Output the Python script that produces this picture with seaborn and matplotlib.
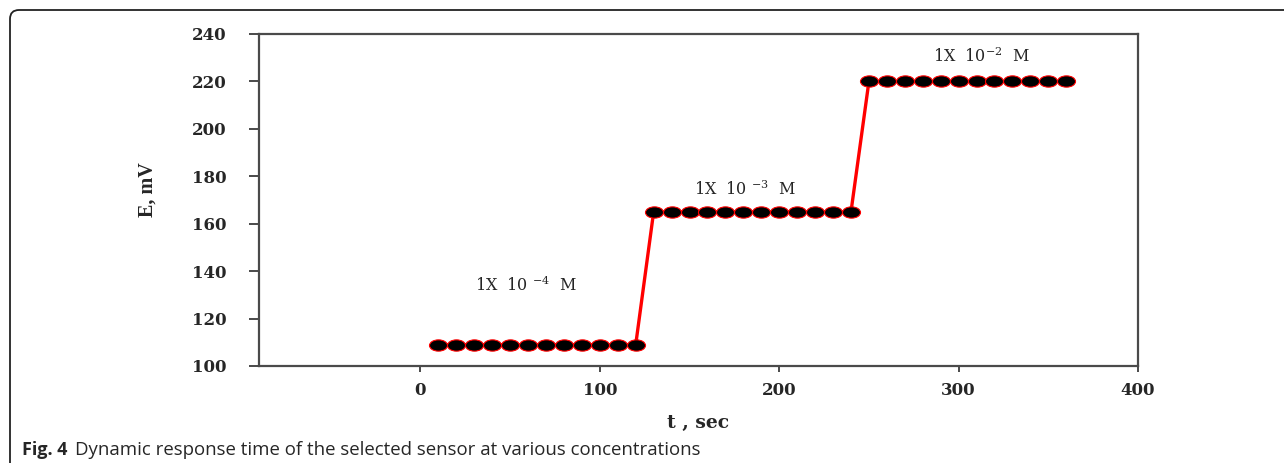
import numpy as np
import pandas as pd
import matplotlib
matplotlib.use("Agg")
import matplotlib.pyplot as plt
import seaborn as sns
from matplotlib.path import Path
from matplotlib.patches import FancyBboxPatch
from matplotlib.transforms import IdentityTransform

# ---- data ----
time_s = [10, 20, 30, 40, 50, 60, 70, 80, 90, 100, 110, 120,
          130, 140, 150, 160, 170, 180, 190, 200, 210, 220, 230, 240,
          250, 260, 270, 280, 290, 300, 310, 320, 330, 340, 350, 360]
potential_mV = [109, 109, 109, 109, 109, 109, 109, 109, 109, 109, 109, 109,
                165, 165, 165, 165, 165, 165, 165, 165, 165, 165, 165, 165,
                220, 220, 220, 220, 220, 220, 220, 220, 220, 220, 220, 220]
conc_labels = [r"1X  10 $^{-4}$  M", r"1X  10 $^{-3}$  M", r"1X  10$^{-2}$  M"]
label_pos = [(59, 134), (181, 174.5), (313, 230.5)]
x_ticks = [0, 100, 200, 300, 400]
y_ticks = [100, 120, 140, 160, 180, 200, 220, 240]

df = pd.DataFrame({"t": time_s, "E": potential_mV})

sns.set_style("white")
plt.rcParams["mathtext.fontset"] = "dejavuserif"

W, H = 1284, 463
fig = plt.figure(figsize=(W / 100, H / 100), dpi=100)
ax = fig.add_axes([259 / W, 1 - 366 / H, (1138 - 259) / W, (366 - 34) / H])

# elliptical marker (the reference image is horizontally stretched)
circ = Path.unit_circle()
ell = Path(circ.vertices * np.array([1.6, 1.0]), circ.codes)

sns.lineplot(data=df, x="t", y="E", ax=ax, color="red", linewidth=2.4,
             marker=ell, markersize=13, markerfacecolor="black",
             markeredgecolor="red", markeredgewidth=0.8, sort=False)

ax.set_xlim(-90, 400)
ax.set_ylim(100, 240)
ax.set_xticks(x_ticks)
ax.set_yticks(y_ticks)

spine_col = "#4a4a4a"
for s in ax.spines.values():
    s.set_color(spine_col)
    s.set_linewidth(1.6)

tick_font = {"family": "DejaVu Serif", "weight": "bold", "size": 12}
ax.set_xticklabels([str(v) for v in x_ticks], fontdict=tick_font)
ax.set_yticklabels([str(v) for v in y_ticks], fontdict=tick_font)
ax.tick_params(axis="x", direction="out", length=4.5, width=1.4,
               color=spine_col, pad=7, bottom=True)
ax.tick_params(axis="y", direction="out", length=7.5, width=1.4,
               color=spine_col, pad=16, left=True)

ax.set_xlabel("t , sec", fontfamily="DejaVu Serif", fontweight="bold",
              fontsize=13.5, labelpad=11)
ax.set_ylabel("E, mV", fontfamily="Liberation Serif", fontweight="bold",
              fontsize=14.5)
ax.yaxis.set_label_coords((158 - 259) / (1138 - 259), (366 - 190) / (366 - 34))

for txt, (xp, yp) in zip(conc_labels, label_pos):
    ax.text(xp, yp, txt, ha="center", va="center",
            fontfamily="DejaVu Serif", fontsize=11.5)

# caption
cap_y = 1 - 455 / H
fig.text(22 / W, cap_y, "Fig. 4", fontfamily="Open Sans",
         fontweight="bold", fontsize=13, va="baseline", ha="left")
fig.text(75 / W, cap_y,
         "Dynamic response time of the selected sensor at various concentrations",
         fontfamily="Open Sans", fontsize=13.4, va="baseline", ha="left")

# rounded frame around figure + caption
frame = FancyBboxPatch((10, -60), 1400, (H - 10) + 60,
                       boxstyle="round,pad=0,rounding_size=9",
                       transform=IdentityTransform(), fill=False,
                       edgecolor="#222222", linewidth=1.3, clip_on=False)
fig.add_artist(frame)

fig.savefig("out.png", dpi=100)
